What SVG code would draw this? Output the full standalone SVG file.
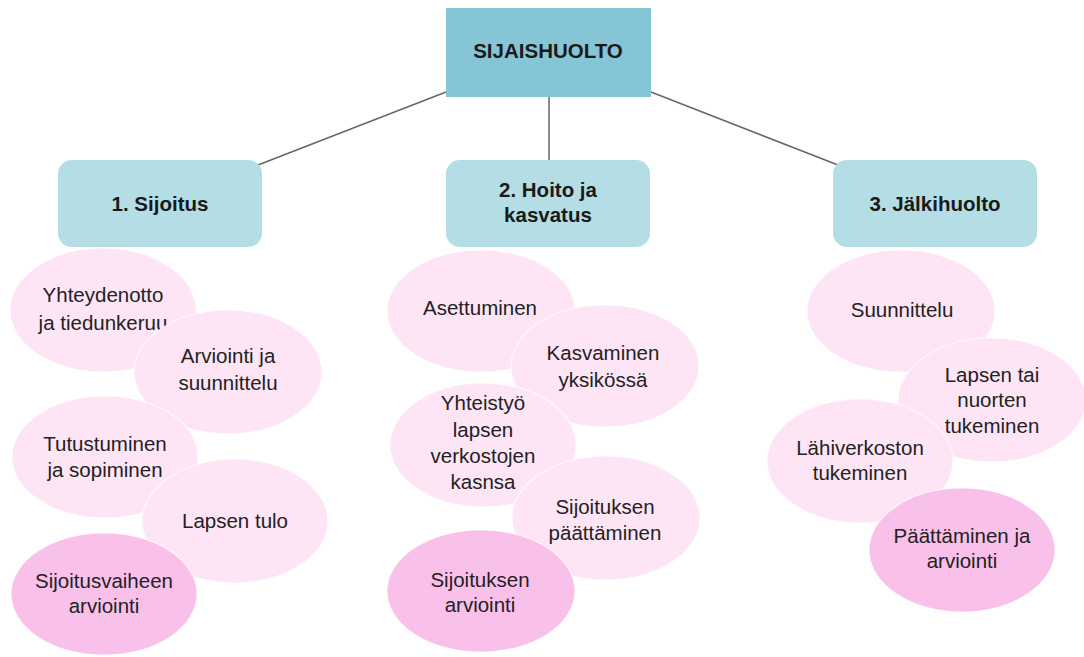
<svg xmlns="http://www.w3.org/2000/svg" width="1084" height="657" viewBox="0 0 1084 657">
<style>
.t{font-family:"Liberation Sans",Arial,sans-serif;font-size:20.5px;fill:#222;text-anchor:middle}
.h{font-family:"Liberation Sans",Arial,sans-serif;font-size:20.5px;font-weight:bold;fill:#1a1a1a;text-anchor:middle}
.e{fill:#fde5f6;stroke:#ffffff;stroke-opacity:0.7;stroke-width:1.2}
.d{fill:#f9c0ea;stroke:#ffffff;stroke-opacity:0.7;stroke-width:1.2}
.b{fill:#b4dde5}
.c{stroke:#666;stroke-width:1.5;fill:none}
</style>
<rect width="1084" height="657" fill="#ffffff"/>
<g id="connectors">
<line class="c" x1="446" y1="92" x2="258" y2="165"/>
<line class="c" x1="549" y1="97" x2="549" y2="160"/>
<line class="c" x1="651" y1="92" x2="838" y2="165"/>
</g>
<g id="root">
<rect x="446" y="8" width="205" height="89" fill="#86c5d5"/>
<text class="h" x="548" y="58">SIJAISHUOLTO</text>
</g>
<g id="phase1">
<rect class="b" x="58" y="160" width="204" height="87" rx="14"/>
<text class="h" x="160" y="211">1. Sijoitus</text>
</g>
<g id="phase2">
<rect class="b" x="446" y="160" width="204" height="87" rx="14"/>
<text class="h" x="548" y="197">2. Hoito ja</text>
<text class="h" x="548" y="222">kasvatus</text>
</g>
<g id="phase3">
<rect class="b" x="833" y="160" width="204" height="87" rx="14"/>
<text class="h" x="935" y="211">3. Jälkihuolto</text>
</g>
<g id="p1a">
<ellipse class="e" cx="103" cy="310" rx="93" ry="62"/>
<text class="t" x="103" y="302">Yhteydenotto</text>
<text class="t" x="103" y="330">ja tiedunkeruu</text>
</g>
<g id="p1b">
<ellipse class="e" cx="228" cy="372" rx="94" ry="62"/>
<text class="t" x="228" y="363">Arviointi ja</text>
<text class="t" x="228" y="390">suunnittelu</text>
</g>
<g id="p1c">
<ellipse class="e" cx="105" cy="457" rx="93" ry="61"/>
<text class="t" x="105" y="451">Tutustuminen</text>
<text class="t" x="105" y="477">ja sopiminen</text>
</g>
<g id="p1d">
<ellipse class="e" cx="235" cy="521" rx="93" ry="62"/>
<text class="t" x="235" y="528">Lapsen tulo</text>
</g>
<g id="p1e">
<ellipse class="d" cx="104" cy="594" rx="93" ry="61"/>
<text class="t" x="104" y="588">Sijoitusvaiheen</text>
<text class="t" x="104" y="613">arviointi</text>
</g>
<g id="p2a">
<ellipse class="e" cx="481" cy="311" rx="94" ry="61"/>
<text class="t" x="480" y="315">Asettuminen</text>
</g>
<g id="p2b">
<ellipse class="e" cx="605" cy="366" rx="94" ry="61"/>
<text class="t" x="603" y="360">Kasvaminen</text>
<text class="t" x="603" y="387">yksikössä</text>
</g>
<g id="p2c">
<ellipse class="e" cx="483" cy="445" rx="93" ry="62"/>
<text class="t" x="483" y="410">Yhteistyö</text>
<text class="t" x="483" y="437">lapsen</text>
<text class="t" x="483" y="463">verkostojen</text>
<text class="t" x="483" y="489">kasnsa</text>
</g>
<g id="p2d">
<ellipse class="e" cx="606" cy="518" rx="94" ry="62"/>
<text class="t" x="605" y="514">Sijoituksen</text>
<text class="t" x="605" y="540">päättäminen</text>
</g>
<g id="p2e">
<ellipse class="d" cx="481" cy="591" rx="94" ry="61"/>
<text class="t" x="480" y="587">Sijoituksen</text>
<text class="t" x="480" y="612">arviointi</text>
</g>
<g id="p3a">
<ellipse class="e" cx="901" cy="311" rx="94" ry="61"/>
<text class="t" x="902" y="317">Suunnittelu</text>
</g>
<g id="p3b">
<ellipse class="e" cx="992" cy="400" rx="94" ry="62"/>
<text class="t" x="992" y="382">Lapsen tai</text>
<text class="t" x="992" y="407">nuorten</text>
<text class="t" x="992" y="433">tukeminen</text>
</g>
<g id="p3c">
<ellipse class="e" cx="860" cy="461" rx="93" ry="62"/>
<text class="t" x="860" y="455">Lähiverkoston</text>
<text class="t" x="860" y="480">tukeminen</text>
</g>
<g id="p3d">
<ellipse class="d" cx="962" cy="550" rx="93" ry="62"/>
<text class="t" x="962" y="543">Päättäminen ja</text>
<text class="t" x="962" y="568">arviointi</text>
</g>
</svg>
